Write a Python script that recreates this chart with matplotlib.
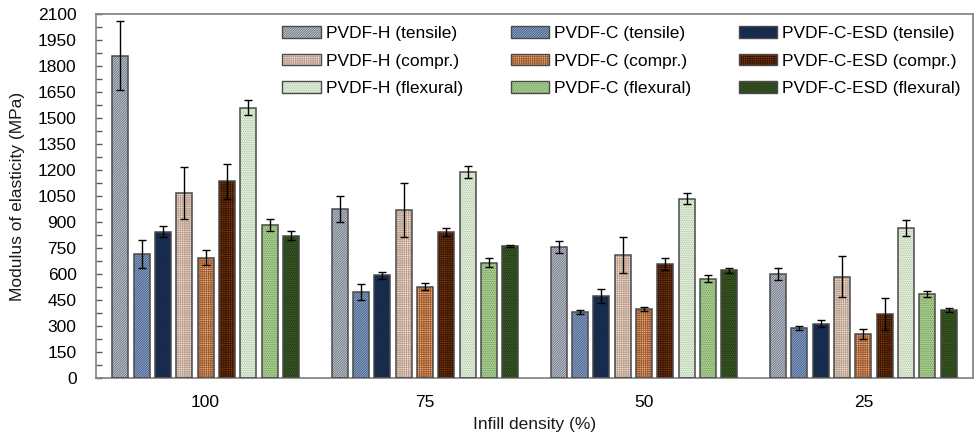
import matplotlib
matplotlib.use("Agg")
import matplotlib.pyplot as plt
from matplotlib.patches import Patch
from matplotlib.ticker import MultipleLocator
from matplotlib.legend_handler import HandlerTuple
import numpy as np

plt.rcParams['font.family'] = ['Liberation Sans', 'DejaVu Sans']
plt.rcParams['hatch.linewidth'] = 0.5

groups = ['100', '75', '50', '25']
series = ['PVDF-H (tensile)', 'PVDF-C (tensile)', 'PVDF-C-ESD (tensile)',
          'PVDF-H (compr.)', 'PVDF-C (compr.)', 'PVDF-C-ESD (compr.)',
          'PVDF-H (flexural)', 'PVDF-C (flexural)', 'PVDF-C-ESD (flexural)']

h_tensile = [1860, 973, 756, 600]
c_tensile = [715, 496, 381, 288]
esd_tensile = [845, 592, 473, 313]
h_compr = [1067, 969, 711, 585]
c_compr = [694, 527, 398, 254]
esd_compr = [1135, 842, 656, 369]
h_flex = [1560, 1188, 1035, 865]
c_flex = [883, 665, 573, 485]
esd_flex = [821, 762, 621, 392]

h_tensile_err = [200, 75, 35, 34]
c_tensile_err = [80, 45, 12, 13]
esd_tensile_err = [30, 22, 42, 20]
h_compr_err = [150, 155, 103, 120]
c_compr_err = [43, 20, 14, 31]
esd_compr_err = [100, 21, 35, 92]
h_flex_err = [45, 33, 30, 44]
c_flex_err = [35, 27, 21, 17]
esd_flex_err = [25, 8, 13, 12]

values = [h_tensile, c_tensile, esd_tensile, h_compr, c_compr, esd_compr,
          h_flex, c_flex, esd_flex]
errors = [h_tensile_err, c_tensile_err, esd_tensile_err, h_compr_err, c_compr_err,
          esd_compr_err, h_flex_err, c_flex_err, esd_flex_err]

faces = ['#c4ccd8', '#8eaad6', '#1f3864',
         '#fbe5d6', '#f4b183', '#843c0c',
         '#e2f0d9', '#a9d18e', '#385723']
hatch_cols = ['#59606c', '#3a4c68', '#0d1a2e',
              '#b8a090', '#9a5a30', '#3a1605',
              '#a8bca0', '#6a8a5a', '#1a2a10']
hatches = ['/' * 14, '/' * 14, '/' * 14,
           '+' * 9, '+' * 9, '+' * 9,
           '.' * 9, '.' * 9, '.' * 9]

fig = plt.figure(figsize=(9.76, 4.37), dpi=100)
ax = fig.add_axes([96/976, 1-378/437, (973-96)/976, (378-14)/437])

x = np.arange(len(groups))
pitch = 0.0973
width = 0.073
handles = []
for i, (vals, errs) in enumerate(zip(values, errors)):
    pos = x + (i - 4) * pitch
    ax.bar(pos, vals, width, color=faces[i], hatch=hatches[i],
           edgecolor=hatch_cols[i], linewidth=0, zorder=2)
    ax.bar(pos, vals, width, fill=False, edgecolor='#4a4a4a', linewidth=1.1, zorder=3)
    ax.errorbar(pos, vals, yerr=errs, fmt='none', ecolor='black', elinewidth=1,
                capsize=3.2, capthick=1, zorder=4)
    h1 = Patch(facecolor=faces[i], hatch=hatches[i], edgecolor=hatch_cols[i], linewidth=0)
    h2 = Patch(fill=False, edgecolor='#4a4a4a', linewidth=1.0)
    handles.append((h1, h2))

ax.set_xlim(-0.5, 3.5)
ax.set_ylim(0, 2100)
ax.set_xticks(x)
ax.set_xticklabels(groups)
ax.yaxis.set_major_locator(MultipleLocator(150))
ax.yaxis.set_minor_locator(MultipleLocator(75))
ax.tick_params(axis='y', which='both', direction='in', length=4.5, width=1,
               color='#595959', labelsize=12.5, pad=14)
ax.tick_params(axis='x', length=0, labelsize=12.5, pad=12)
for s in ax.spines.values():
    s.set_color('#7f7f7f')
    s.set_linewidth(1.2)

ax.set_ylabel('Modulus of elasticity (MPa)', fontsize=12.5, labelpad=9, color='#1a1a1a')
ax.set_xlabel('Infill density (%)', fontsize=12.5, labelpad=5, color='#1a1a1a')

order = [0, 3, 6, 1, 4, 7, 2, 5, 8]
leg = ax.legend([handles[k] for k in order], [series[k] for k in order],
                ncol=3, loc='upper right', bbox_to_anchor=(1.0, 1.0),
                frameon=False, fontsize=12.5, handlelength=2.2, handleheight=0.65,
                handletextpad=0.3, columnspacing=2.75, labelspacing=0.72,
                borderaxespad=0.3,
                handler_map={tuple: HandlerTuple(ndivide=1, pad=0)})

fig.savefig('out.png', dpi=100)
